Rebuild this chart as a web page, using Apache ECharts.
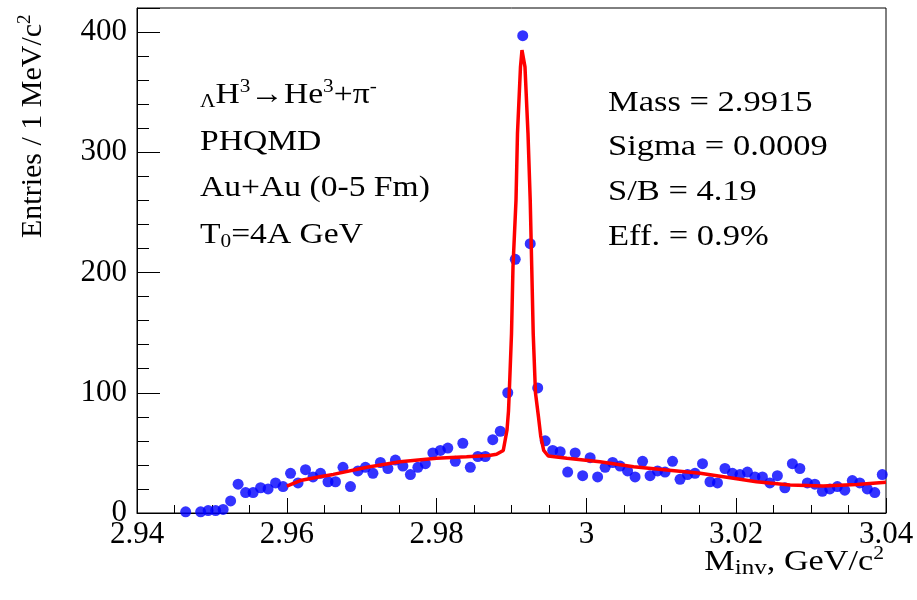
<!DOCTYPE html>
<html><head><meta charset="utf-8">
<script src="https://cdn.jsdelivr.net/npm/echarts@6/dist/echarts.min.js"></script>
<style>html,body{margin:0;padding:0;background:#fff}#c{width:917px;height:600px}</style>
</head><body><div id="c"></div>
<script>
// Histogram bin centres (GeV/c^2) and entries per 1 MeV/c^2 bin
const binCenters = [
  2.9465,2.9475,2.9485,2.9495,2.9505,2.9515,2.9525,2.9535,2.9545,2.9555,
  2.9565,2.9575,2.9585,2.9595,2.9605,2.9615,2.9625,2.9635,2.9645,2.9655,
  2.9665,2.9675,2.9685,2.9695,2.9705,2.9715,2.9725,2.9735,2.9745,2.9755,
  2.9765,2.9775,2.9785,2.9795,2.9805,2.9815,2.9825,2.9835,2.9845,2.9855,
  2.9865,2.9875,2.9885,2.9895,2.9905,2.9915,2.9925,2.9935,2.9945,2.9955,
  2.9965,2.9975,2.9985,2.9995,3.0005,3.0015,3.0025,3.0035,3.0045,3.0055,
  3.0065,3.0075,3.0085,3.0095,3.0105,3.0115,3.0125,3.0135,3.0145,3.0155,
  3.0165,3.0175,3.0185,3.0195,3.0205,3.0215,3.0225,3.0235,3.0245,3.0255,
  3.0265,3.0275,3.0285,3.0295,3.0305,3.0315,3.0325,3.0335,3.0345,3.0355,
  3.0365,3.0375,3.0385,3.0395
];
const counts = [
  1,null,1,2,2,3,10,24,17,17,
  21,20,25,22,33,25,36,30,33,26,
  26,38,22,35,38,33,42,37,44,39,
  32,38,41,50,52,54,43,58,38,47,
  47,61,68,100,211,397,224,104,60,52,
  51,34,50,31,46,30,38,42,39,35,
  30,43,31,35,34,43,28,32,33,41,
  26,25,37,33,32,34,30,30,25,31,
  21,41,37,25,24,18,20,22,19,27,
  25,20,17,32
];
// Fit curve (signal + background)
const fitX = [2.9600,2.9618,2.9644,2.9662,2.9707,2.9751,2.9800,2.9840,2.9870,2.9880,
  2.9889,2.9894,2.9896,2.9897,2.9900,2.9902,2.9906,2.9908,2.9912,2.9914,
  2.9918,2.9922,2.9925,2.9927,2.9929,2.9932,2.9936,2.9939,2.9943,2.9949,
  2.9974,3.0018,3.0063,3.0107,3.0152,3.0183,3.0227,3.0272,3.0316,3.0361,3.0400];
const fitY = [22.4,27.0,30.2,32.1,38.0,42.6,45.5,46.8,47.8,48.8,
  52,69,85,100,149,205,260,316,371,385,
  371,316,260,205,149,100,80,64,52,47.4,
  45.5,42.6,38.5,35.7,33.0,30.2,26.0,23.3,22.4,23.8,25.5];

const leftLines = ['{s1|Λ}{n|H}{p|3}{n|→He}{p|3}{n|+π}{p|-}', '{n|PHQMD}', '{n|Au+Au (0-5 Fm)}', '{n|T}{s2|0}{n|=4A GeV}'];
const rightLines = ['Mass = 2.9915', 'Sigma = 0.0009', 'S/B = 4.19', 'Eff. = 0.9%'];
const xTitle = '{n|M}{s3|inv}{n|, GeV/c}{p|2}';
const yTitle = '{n|Entries / 1 MeV/c}{p|2}';

const FONT = 'Liberation Serif';
const rich = {
  n: {fontSize: 30, fontFamily: FONT, color: '#000', lineHeight: 34},
  p: {fontSize: 19, fontFamily: FONT, color: '#000', lineHeight: 18, verticalAlign: 'top'},
  s1: {fontSize: 19, fontFamily: FONT, color: '#000', lineHeight: 4, verticalAlign: 'bottom'},
  s2: {fontSize: 19, fontFamily: FONT, color: '#000', lineHeight: 14, verticalAlign: 'bottom'},
  s3: {fontSize: 22, fontFamily: FONT, color: '#000', lineHeight: 2, verticalAlign: 'bottom'}
};

const points = [];
binCenters.forEach((x, i) => { if (counts[i] !== null) points.push([x, counts[i]]); });
const fit = fitX.map((x, i) => [x, fitY[i]]);

const graphic = [];
const leftY = [95, 141.7, 188, 235];
leftLines.forEach((t, i) => graphic.push({
  type: 'text', x: 200, y: leftY[i], scaleX: 1.12,
  style: {text: t, rich: rich, x: 0, y: 0, align: 'left', verticalAlign: 'middle', font: '30px "Liberation Serif"'}
}));
const rightY = [103, 147, 191.7, 236.7];
rightLines.forEach((t, i) => graphic.push({
  type: 'text', x: 608, y: rightY[i], scaleX: 1.15,
  style: {text: '{n|' + t + '}', rich: rich, x: 0, y: 0, align: 'left', verticalAlign: 'middle', font: '30px "Liberation Serif"'}
}));
graphic.push({
  type: 'text', x: 884, y: 562, scaleX: 1.14,
  style: {text: xTitle, rich: rich, x: 0, y: 0, align: 'right', verticalAlign: 'middle', font: '30px "Liberation Serif"'}
});
graphic.push({
  type: 'text', x: 33, y: 238, rotation: Math.PI / 2,
  style: {text: yTitle, rich: rich, x: 0, y: 0, align: 'left', verticalAlign: 'middle', font: '30px "Liberation Serif"'}
});

const chart = echarts.init(document.getElementById('c'), null, {renderer: 'canvas'});
chart.setOption({
  animation: false,
  backgroundColor: '#fff',
  grid: {left: 137, right: 31, top: 8, bottom: 87, show: true, borderColor: '#000', borderWidth: 1, backgroundColor: 'transparent'},
  xAxis: {
    type: 'value', min: 2.94, max: 3.04, interval: 0.02,
    axisLine: {show: true, onZero: false, lineStyle: {color: '#000', width: 1}},
    axisTick: {show: true, inside: true, length: 15, lineStyle: {color: '#000'}},
    minorTick: {show: true, splitNumber: 4, length: 8, lineStyle: {color: '#000'}},
    splitLine: {show: false},
    axisLabel: {color: '#000', fontFamily: FONT, fontSize: 31, margin: 6}
  },
  yAxis: {
    type: 'value', min: 0, max: 420, interval: 100,
    axisLine: {show: true, lineStyle: {color: '#000', width: 1}},
    axisTick: {show: true, inside: true, length: 23, lineStyle: {color: '#000'}},
    minorTick: {show: true, splitNumber: 5, length: 12, lineStyle: {color: '#000'}},
    splitLine: {show: false},
    axisLabel: {color: '#000', fontFamily: FONT, fontSize: 31, margin: 10, showMaxLabel: false}
  },
  graphic: graphic,
  series: [
    {type: 'scatter', data: points, symbol: 'circle', symbolSize: 11, itemStyle: {color: '#0000ff'}, z: 2},
    {type: 'line', data: fit, showSymbol: false, smooth: false, lineStyle: {color: '#ff0000', width: 3.5}, itemStyle: {color: '#ff0000'}, z: 3}
  ]
});
</script>
</body></html>
